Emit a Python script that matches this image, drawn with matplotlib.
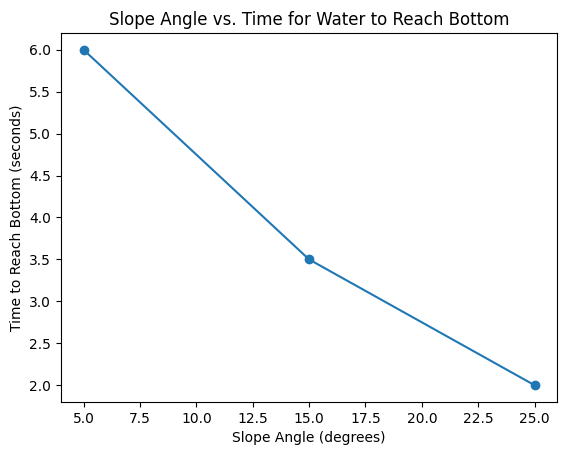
import matplotlib.pyplot as plt

slope_angles = [5, 15, 25]
times = [6.0, 3.5, 2.0]

fig = plt.figure(figsize=(5.67, 4.55), dpi=100)
ax = fig.add_axes([0.1076, 0.1165, 0.875, 0.811])
ax.plot(slope_angles, times, marker='o')
ax.set_title('Slope Angle vs. Time for Water to Reach Bottom')
ax.set_xlabel('Slope Angle (degrees)')
ax.set_ylabel('Time to Reach Bottom (seconds)')

fig.savefig('out.png', dpi=100)
